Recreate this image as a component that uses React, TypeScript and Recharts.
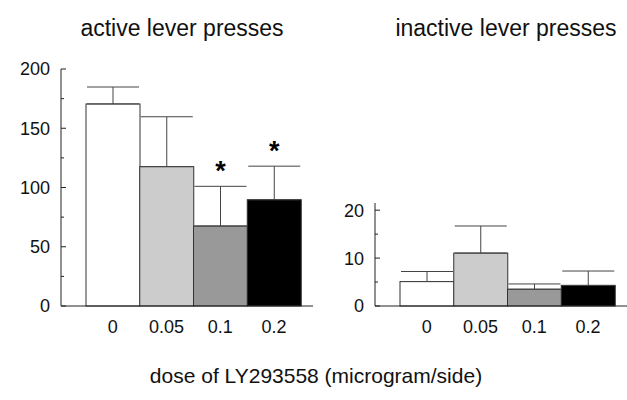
import { BarChart, Bar, XAxis, YAxis, ErrorBar } from "recharts";

// dose groups (microgram/side)
const doses = ["0", "0.05", "0.1", "0.2"];

// active lever presses, mean and SEM
const activeMeans = [170.5, 117.6, 67.5, 89.7];
const activeSem = [14.3, 42.1, 33.5, 28.3];

// inactive lever presses, mean and SEM
const inactiveMeans = [5.1, 11.05, 3.5, 4.3];
const inactiveSem = [2.1, 5.65, 1.1, 3.0];

// significance marks
const activeSig = ["", "", "*", "*"];
const inactiveSig = ["", "", "", ""];

const activeTicks = [0, 25, 50, 75, 100, 125, 150, 175, 200];
const inactiveTicks = [0, 5, 10, 15, 20];

const fills = ["#ffffff", "#cccccc", "#999999", "#000000"];
const font = "'Liberation Sans', Arial, Helvetica, sans-serif";

const activeData = doses.map((d, i) => ({
  dose: d,
  mean: activeMeans[i],
  err: [0, activeSem[i]],
  sem: activeSem[i],
  sig: activeSig[i],
}));

const inactiveData = doses.map((d, i) => ({
  dose: d,
  mean: inactiveMeans[i],
  err: [0, inactiveSem[i]],
  sem: inactiveSem[i],
  sig: inactiveSig[i],
}));

function YTick(props: any) {
  const { x, y, payload, major } = props;
  const isMajor = payload.value % major === 0;
  return (
    <g>
      <line x1={x} x2={x + (isMajor ? 5 : 3)} y1={y} y2={y} stroke="#222" />
      {isMajor && (
        <text
          x={x - 11}
          y={y}
          dy="0.36em"
          textAnchor="end"
          fontSize={18}
          fontFamily={font}
          fill="#111"
        >
          {payload.value}
        </text>
      )}
    </g>
  );
}

function BarShape(props: any) {
  const { x, y, width, height, index, payload } = props;
  const pxPerUnit = payload.mean ? height / payload.mean : 0;
  const errTop = y - payload.sem * pxPerUnit;
  return (
    <g>
      <rect
        x={x}
        y={y}
        width={width}
        height={height}
        fill={fills[index]}
        stroke="#333"
        strokeWidth={1}
      />
      {payload.sig && (
        <text
          x={x + width / 2}
          y={errTop - 6}
          textAnchor="middle"
          fontSize={27}
          fontWeight="bold"
          fontFamily={font}
          fill="#000"
        >
          {payload.sig}
        </text>
      )}
    </g>
  );
}

function Panel({ data, domain, ticks, major, top }: any) {
  return (
    <BarChart
      width={313}
      height={346}
      data={data}
      margin={{ top, right: 0, bottom: 0, left: 0 }}
      barCategoryGap={0}
      barGap={0}
    >
      <XAxis
        dataKey="dose"
        height={40}
        padding={{ left: 25, right: 12 }}
        interval={0}
        tickLine={false}
        tickSize={0}
        tickMargin={14}
        axisLine={{ stroke: "#222" }}
        tick={{ fontSize: 18, fontFamily: font, fill: "#111" }}
      />
      <YAxis
        width={61}
        domain={domain}
        ticks={ticks}
        interval={0}
        tickLine={false}
        tickSize={0}
        tickMargin={0}
        axisLine={{ stroke: "#222" }}
        tick={(p: any) => <YTick {...p} major={major} />}
      />
      <Bar dataKey="mean" isAnimationActive={false} shape={<BarShape />}>
        <ErrorBar
          dataKey="err"
          direction="y"
          width={26}
          stroke="#444"
          strokeWidth={1}
        />
      </Bar>
    </BarChart>
  );
}

export default function App() {
  return (
    <div
      style={{
        position: "absolute",
        left: 0,
        top: 0,
        width: 627,
        height: 400,
        background: "#fff",
        fontFamily: font,
      }}
    >
      <div style={{ position: "absolute", left: 0, top: 0 }}>
        <Panel data={activeData} domain={[0, 200]} ticks={activeTicks} major={50} top={69} />
      </div>
      <div style={{ position: "absolute", left: 314, top: 0 }}>
        <Panel data={inactiveData} domain={[0, 21.5]} ticks={inactiveTicks} major={10} top={203} />
      </div>
      <svg
        width={627}
        height={400}
        style={{ position: "absolute", left: 0, top: 0, pointerEvents: "none" }}
      >
        <text x={182} y={36} textAnchor="middle" fontSize={23} fontFamily={font} fill="#111">
          active lever presses
        </text>
        <text x={506} y={36} textAnchor="middle" fontSize={23} fontFamily={font} fill="#111">
          inactive lever presses
        </text>
        <text x={316} y={383} textAnchor="middle" fontSize={21} fontFamily={font} fill="#111">
          dose of LY293558 (microgram/side)
        </text>
      </svg>
    </div>
  );
}
